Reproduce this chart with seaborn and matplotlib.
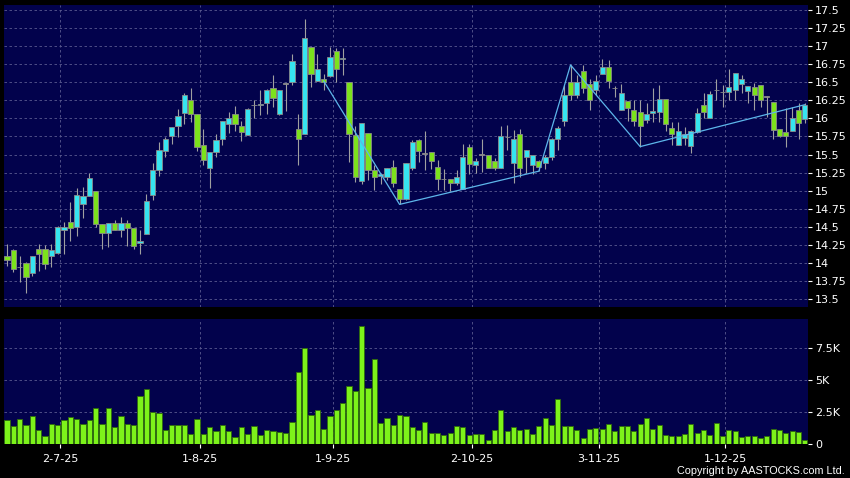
import matplotlib
matplotlib.use('Agg')
import matplotlib.pyplot as plt
import seaborn as sns
import numpy as np
import pandas as pd
from matplotlib.ticker import FuncFormatter

# trading days (HK) shown on the chart
start_day = '2025-06-19'
end_day = '2025-12-18'
hk_holidays = ['2025-07-01', '2025-10-01', '2025-10-07', '2025-10-29']

opens = [14.10, 14.18, 13.94, 14.00, 13.86, 14.19, 14.19, 14.09, 14.14, 14.45,
         14.56, 14.50, 14.81, 14.92, 15.00, 14.54, 14.41, 14.55, 14.46, 14.55,
         14.49, 14.27, 14.40, 14.94, 15.28, 15.55, 15.76, 15.90, 16.08, 16.26,
         16.06, 15.63, 15.32, 15.53, 15.71, 15.92, 16.06, 15.90, 15.77, 16.18,
         16.18, 16.21, 16.42, 16.06, 16.48, 16.50, 15.85, 15.78, 16.99, 16.52,
         16.55, 16.59, 16.94, 16.82, 16.50, 15.77, 15.14, 15.80, 15.28, 15.20,
         15.19, 15.33, 15.03, 14.89, 15.31, 15.70, 15.51, 15.53, 15.33, 15.16,
         15.16, 15.10, 15.03, 15.60, 15.35, 15.50, 15.50, 15.41, 15.31, 15.74,
         15.38, 15.79, 15.46, 15.36, 15.41, 15.38, 15.46, 15.72, 15.97, 16.50,
         16.33, 16.66, 16.48, 16.40, 16.62, 16.71, 16.42, 16.11, 16.24, 16.11,
         16.09, 15.98, 16.08, 16.09, 16.27, 15.87, 15.63, 15.73, 15.62, 15.81,
         16.18, 16.00, 16.39, 16.36, 16.36, 16.39, 16.48, 16.38, 16.44, 16.46,
         16.30, 16.23, 15.85, 15.81, 15.83, 16.11, 15.99]
closes = [14.04, 13.92, 13.94, 13.80, 14.10, 14.12, 13.99, 14.18, 14.50, 14.50,
          14.49, 14.94, 14.92, 15.18, 14.54, 14.41, 14.55, 14.46, 14.55, 14.49,
          14.23, 14.30, 14.86, 15.28, 15.56, 15.71, 15.88, 16.04, 16.32, 16.06,
          15.60, 15.42, 15.53, 15.70, 15.96, 16.01, 15.92, 15.81, 16.13, 16.18,
          16.20, 16.40, 16.28, 16.40, 16.48, 16.80, 15.71, 17.12, 16.62, 16.69,
          16.50, 16.85, 16.69, 16.84, 15.78, 15.19, 15.94, 15.29, 15.19, 15.23,
          15.31, 15.10, 14.89, 15.38, 15.67, 15.55, 15.51, 15.41, 15.16, 15.16,
          15.10, 15.19, 15.46, 15.37, 15.41, 15.50, 15.31, 15.31, 15.75, 15.74,
          15.71, 15.31, 15.56, 15.50, 15.33, 15.46, 15.72, 15.87, 16.33, 16.33,
          16.50, 16.42, 16.25, 16.52, 16.71, 16.52, 16.42, 16.35, 16.15, 15.97,
          15.89, 16.06, 16.10, 16.27, 15.92, 15.78, 15.82, 15.78, 15.83, 16.08,
          16.09, 16.34, 16.39, 16.36, 16.43, 16.63, 16.54, 16.45, 16.32, 16.25,
          16.30, 15.84, 15.76, 15.76, 16.01, 15.94, 16.19]
highs = [14.26, 14.19, 14.10, 14.01, 14.10, 14.26, 14.25, 14.26, 14.51, 14.57,
         14.85, 15.04, 15.05, 15.25, 15.00, 14.54, 14.55, 14.60, 14.63, 14.60,
         14.49, 14.45, 14.95, 15.38, 15.67, 15.74, 15.88, 16.13, 16.35, 16.42,
         16.06, 15.85, 15.53, 15.79, 15.96, 16.09, 16.17, 15.97, 16.14, 16.25,
         16.40, 16.41, 16.60, 16.40, 16.49, 16.89, 16.06, 17.37, 16.99, 16.89,
         16.62, 16.99, 16.97, 16.97, 16.50, 15.89, 15.94, 15.80, 15.35, 15.23,
         15.31, 15.42, 15.03, 15.38, 15.70, 15.71, 15.82, 15.53, 15.43, 15.30,
         15.16, 15.29, 15.65, 15.65, 15.45, 15.71, 15.50, 15.45, 15.89, 15.91,
         15.84, 15.86, 15.56, 15.50, 15.43, 15.50, 15.73, 15.90, 16.46, 16.74,
         16.60, 16.74, 16.55, 16.60, 16.82, 16.81, 16.45, 16.48, 16.24, 16.25,
         16.25, 16.22, 16.42, 16.46, 16.27, 15.95, 15.95, 15.88, 15.84, 16.14,
         16.35, 16.38, 16.55, 16.46, 16.68, 16.63, 16.60, 16.45, 16.49, 16.46,
         16.31, 16.23, 15.85, 16.14, 16.16, 16.22, 16.22]
lows = [13.96, 13.87, 13.73, 13.58, 13.82, 13.89, 13.91, 13.95, 14.12, 14.12,
        14.31, 14.37, 14.62, 14.92, 14.50, 14.19, 14.22, 14.45, 14.36, 14.23,
        14.19, 14.12, 14.40, 14.87, 15.21, 15.46, 15.64, 15.74, 15.92, 15.95,
        15.55, 15.35, 15.04, 15.47, 15.63, 15.80, 15.82, 15.69, 15.77, 16.00,
        16.05, 16.06, 16.16, 16.05, 16.10, 16.46, 15.35, 15.78, 16.43, 16.52,
        16.39, 16.58, 16.50, 16.60, 15.40, 15.12, 15.09, 15.15, 15.01, 15.09,
        15.15, 15.05, 14.81, 14.87, 15.29, 15.40, 15.29, 15.30, 15.01, 15.01,
        14.99, 15.08, 15.03, 15.23, 15.24, 15.26, 15.31, 15.29, 15.31, 15.56,
        15.10, 15.19, 15.24, 15.23, 15.27, 15.30, 15.42, 15.56, 15.90, 16.25,
        16.28, 16.35, 16.12, 16.32, 16.62, 16.42, 16.30, 16.11, 15.97, 15.89,
        15.60, 15.94, 15.95, 15.95, 15.82, 15.63, 15.63, 15.63, 15.52, 15.80,
        16.00, 16.00, 16.25, 16.16, 16.26, 16.25, 16.35, 16.21, 16.12, 16.16,
        16.02, 15.72, 15.74, 15.60, 15.83, 15.72, 15.93]
volumes = [1910, 1370, 1970, 1450, 2170, 1110, 660, 1580, 1500, 1890,
           2100, 1940, 1600, 1840, 2830, 1580, 2850, 1320, 2200, 1580,
           1520, 3790, 4260, 2540, 2460, 1110, 1470, 1520, 1500, 790,
           1940, 770, 1290, 980, 1450, 1050, 560, 1290, 820, 1390,
           740, 1110, 980, 900, 870, 1710, 5590, 7490, 2300, 2620,
           1180, 2150, 2670, 3240, 4520, 4180, 9260, 4410, 6680, 1680,
           2020, 1470, 2230, 2150, 1320, 1130, 1710, 870, 870, 740,
           870, 1420, 1290, 690, 790, 820, 350, 1130, 2620, 1000,
           1290, 1080, 1180, 790, 1370, 2040, 1520, 3480, 1370, 1370,
           1130, 480, 1210, 1240, 1180, 1550, 980, 1390, 1420, 1050,
           1580, 2040, 1210, 1470, 740, 590, 590, 790, 1580, 870,
           1110, 690, 1630, 660, 1080, 980, 530, 610, 640, 480,
           590, 1180, 1080, 850, 980, 920, 330]

# zigzag overlay (candle index, price)
zz_idx = [50, 62, 84, 89, 100, 126]
zz_val = [16.52, 14.81, 15.27, 16.74, 15.61, 16.19]

price_ticks = np.arange(13.5, 17.51, 0.25)
vol_ticks = [0, 2500, 5000, 7500]

navy = '#02024c'
grid_col = '#5a5a90'
cyan = '#36e4f0'
green = '#7ce21c'
wick_col = '#a0a0a0'

dates = pd.bdate_range(start_day, end_day, freq='C', holidays=hk_holidays)
idx = np.arange(len(dates))
df = pd.DataFrame({'open': opens, 'high': highs, 'low': lows,
                   'close': closes, 'volume': volumes}, index=idx)

# first trading day of each month -> tick labels
month_first = [i for i in range(1, len(dates)) if dates[i].month != dates[i - 1].month]
tick_pos = [i + 0.45 for i in month_first]
tick_lab = [f'{dates[i].day}-{dates[i].month}-{dates[i]:%y}' for i in month_first]

sns.set_style('dark')
plt.rcParams['font.family'] = ['DejaVu Sans']

fig = plt.figure(figsize=(8.5, 4.78), dpi=100, facecolor='black')
ax = fig.add_axes([4 / 850, 1 - 307 / 478, 804 / 850, 302 / 478])
axv = fig.add_axes([4 / 850, 1 - 444 / 478, 804 / 850, 125 / 478])

for a in (ax, axv):
    a.set_facecolor(navy)
    for s in a.spines.values():
        s.set_visible(False)
    a.yaxis.tick_right()
    a.tick_params(axis='y', colors='white', labelsize=8, length=3, width=0.8,
                  pad=2, left=False, right=True)
    a.set_xticks(tick_pos)
    a.grid(True, color=grid_col, linestyle=(0, (3, 3)), linewidth=0.6)
    a.set_axisbelow(True)

# candles
up = df['close'] > df['open']
down = df['close'] < df['open']
colors = np.where(up, cyan, np.where(down, green, wick_col))
body = np.maximum((df['close'] - df['open']).abs(), 0.006)
bottom = np.minimum(df['open'], df['close'])
ax.vlines(idx, df['low'], df['high'], color=wick_col, linewidth=0.8, zorder=2)
ax.bar(idx, body, bottom=bottom, width=0.82, color=colors,
       edgecolor='#8a8a8a', linewidth=0.6, zorder=3)
sns.lineplot(x=zz_idx, y=zz_val, ax=ax, color='#5db6ea', linewidth=0.9, zorder=4)

ax.set_xlim(-0.47, len(idx) - 0.5)
ax.set_ylim(13.39, 17.57)
ax.set_yticks(price_ticks)
ax.yaxis.set_major_formatter(FuncFormatter(lambda v, p: f'{v:g}'))
ax.tick_params(axis='x', length=0, labelbottom=False)
ax.set_xlabel('')
ax.set_ylabel('')

# volume
sns.barplot(x=idx, y=df['volume'].values, ax=axv, native_scale=True,
            color='#7df21a', saturation=1, width=0.82, edgecolor='#2f6a0c',
            linewidth=0.6, errorbar=None, zorder=3)
axv.set_xlim(-0.47, len(idx) - 0.5)
axv.set_ylim(0, 9770)
axv.set_yticks(vol_ticks)
axv.yaxis.set_major_formatter(FuncFormatter(lambda v, p: '0' if v == 0 else f'{v / 1000:g}K'))
axv.set_xticks(tick_pos)
axv.set_xticklabels(tick_lab)
axv.tick_params(axis='x', colors='white', labelsize=8, length=3, width=0.8, pad=4,
                bottom=True)
axv.set_xlabel('')
axv.set_ylabel('')

fig.text(845 / 850, 2 / 478, 'Copyright by AASTOCKS.com Ltd.', color='white',
         ha='right', va='bottom', fontsize=7.8, family=['Liberation Sans', 'DejaVu Sans'])

fig.savefig('out.png', dpi=100, facecolor='black')
